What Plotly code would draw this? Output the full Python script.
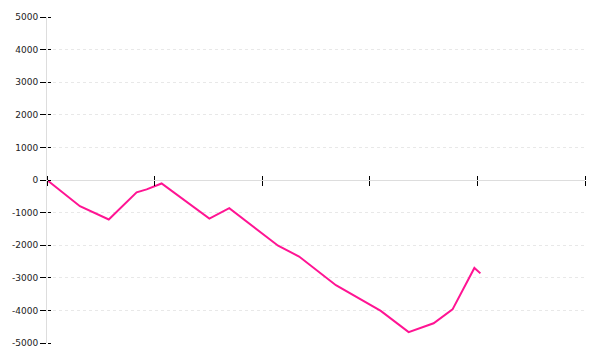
import plotly.graph_objects as go

# Data (x in axis units where ticks are at 0..5; y values)
x_vals = [0.0, 0.306, 0.574, 0.833, 0.926, 1.065, 1.509, 1.694, 2.148, 2.343,
          2.685, 3.102, 3.361, 3.593, 3.769, 3.972, 4.028]
y_vals = [0, -803, -1212, -379, -288, -106, -1182, -864, -2015, -2348,
          -3227, -4015, -4667, -4394, -3970, -2697, -2864]

y_ticks = [5000, 4000, 3000, 2000, 1000, 0, -1000, -2000, -3000, -4000, -5000]
y_tick_text = [str(v) for v in y_ticks]
x_ticks = [0, 1, 2, 3, 4, 5]

fig = go.Figure()
fig.add_trace(go.Scatter(x=x_vals, y=y_vals, mode="lines",
                         line=dict(color="#ff1493", width=2),
                         hoverinfo="skip", showlegend=False))
# dummy traces to activate secondary axes
fig.add_trace(go.Scatter(x=[0], y=[0], xaxis="x2", yaxis="y", mode="markers",
                         marker=dict(opacity=0), showlegend=False, hoverinfo="skip"))
fig.add_trace(go.Scatter(x=[0], y=[0], xaxis="x", yaxis="y2", mode="markers",
                         marker=dict(opacity=0), showlegend=False, hoverinfo="skip"))

font = dict(family="DejaVu Sans", size=9, color="#222")

fig.update_layout(
    width=600, height=360,
    margin=dict(l=45, r=15, t=15, b=15),
    paper_bgcolor="white", plot_bgcolor="white",
    xaxis=dict(range=[0, 5], tickvals=x_ticks, showticklabels=False,
               ticks="outside", ticklen=5, tickcolor="black", tickwidth=1,
               showgrid=False, zeroline=False,
               showline=True, linecolor="#dddddd", linewidth=1,
               anchor="free", position=0.5),
    xaxis2=dict(range=[0, 5], tickvals=x_ticks, showticklabels=False,
                ticks="outside", ticklen=4, tickcolor="black", tickwidth=1,
                showgrid=False, zeroline=False, showline=False,
                overlaying="x", side="top", anchor="free", position=0.5),
    yaxis=dict(range=[-5000, 5000], tickvals=y_ticks, ticktext=y_tick_text,
               ticks="outside", ticklen=6, tickcolor="black", tickwidth=1,
               tickfont=font, ticklabelstandoff=0,
               showgrid=True, gridcolor="#e8e8e8", griddash="dot", gridwidth=1,
               zeroline=False, showline=True, linecolor="#dddddd", linewidth=1,
               domain=[0, 1]),
    yaxis2=dict(range=[-5000, 5000], tickvals=y_ticks, showticklabels=False,
                ticks="outside", ticklen=3, tickcolor="black", tickwidth=1,
                showgrid=False, zeroline=False, showline=False,
                overlaying="y", side="right", anchor="free", position=0),
)

fig.write_html("out.html")
